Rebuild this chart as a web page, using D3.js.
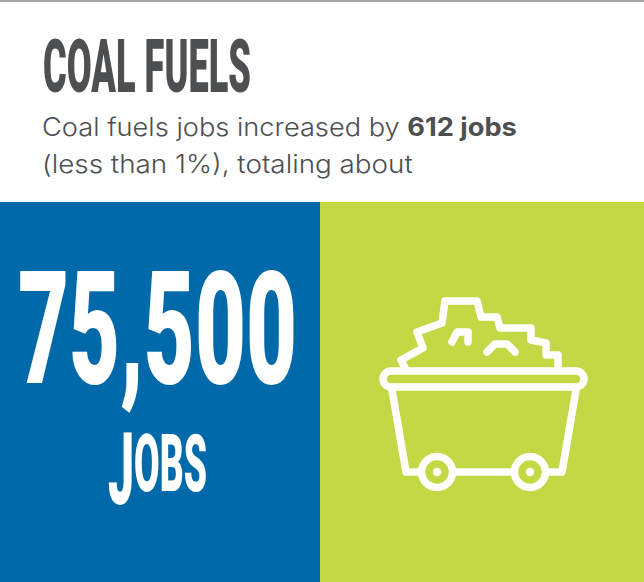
<!DOCTYPE html>
<html>
<head>
<meta charset="utf-8">
<script src="https://cdn.jsdelivr.net/npm/d3@7"></script>
<style>
  html, body { margin: 0; padding: 0; background: #fff; }
  svg { display: block; }
  .heavy { font-family: Roboto, "Liberation Sans", sans-serif; font-weight: 900; }
  .body { font-family: Inter, "Open Sans", sans-serif; font-weight: 300; }
</style>
</head>
<body>
<div id="chart"></div>
<script>
var title = "COAL FUELS",
    bodyLine1 = ["Coal fuels jobs increased by ", "612 jobs"],
    bodyLine2 = "(less than 1%), totaling about",
    totalJobs = 75500,
    unitLabel = ["J", "OBS"];

// outlines of the mine cart, in the icon's own 240x220 box
var pilePoints = [[45, 88], [41, 80], [63, 68], [57, 52], [82, 43], [85, 21], [117, 21], [121, 37], [137, 37], [140, 48], [171, 48], [171, 60], [186, 63], [186, 75], [198, 75], [198, 88]],
    markA = [[92, 62], [97, 52], [108, 52], [108, 62]],
    markB = [[127, 72], [135, 64], [147, 64], [155, 72]],
    cartPoints = [[32, 110], [46, 192], [61, 192]],
    cartFloor = [[93, 192], [154, 192]],
    cartRight = [[186, 192], [202, 192], [216, 110]],
    wheelCentres = [[77, 192], [170, 192]];

var width = 644, height = 582,
    panelEdges = [0, 320, 644],
    panelTop = 202;

var svg = d3.select("#chart").append("svg")
    .attr("width", width)
    .attr("height", height);

svg.append("rect").attr("width", width).attr("height", 2).attr("fill", "#a3a3a3");

svg.append("rect").attr("x", panelEdges[0]).attr("y", panelTop)
    .attr("width", panelEdges[1] - panelEdges[0]).attr("height", height - panelTop)
    .attr("fill", "#0069aa");
svg.append("rect").attr("x", panelEdges[1]).attr("y", panelTop)
    .attr("width", panelEdges[2] - panelEdges[1]).attr("height", height - panelTop)
    .attr("fill", "#c2d945");

// squeeze a text horizontally so it spans x0..x1
function fit(sel, x0, x1, baseline) {
    var box = sel.node().getBBox();
    var k = (x1 - x0) / box.width;
    sel.attr("transform", "translate(" + (x0 - box.x * k) + "," + baseline + ") scale(" + k + ",1)");
    return sel;
}

function heavyText(size, color) {
    return svg.append("text")
        .attr("class", "heavy")
        .attr("font-size", size)
        .attr("fill", color);
}

fit(heavyText(75, "#4d4f51").text(title), 43, 251, 92);
fit(heavyText(158, "#fff").text(d3.format(",")(totalJobs)), 18, 297, 383);

// the J of JOBS hangs below the line in the original lettering
var unit = heavyText(80, "#fff");
unit.append("tspan").attr("font-size", 100).attr("dy", 13).text(unitLabel[0]);
unit.append("tspan").attr("dy", -13).text(unitLabel[1]);
fit(unit, 108, 207, 491);

var line1 = svg.append("text").attr("class", "body")
    .attr("font-size", 25).attr("fill", "#4d4f51");
line1.append("tspan").text(bodyLine1[0]);
line1.append("tspan").attr("font-weight", 700).text(bodyLine1[1]);
fit(line1, 42, 517, 136);

var line2 = svg.append("text").attr("class", "body")
    .attr("font-size", 25).attr("fill", "#4d4f51")
    .text(bodyLine2);
fit(line2, 42, 413, 173);

// mine cart icon
var icon = svg.append("g")
    .attr("transform", "translate(360,280)")
    .attr("fill", "none")
    .attr("stroke", "#fff")
    .attr("stroke-width", 7.5)
    .attr("stroke-linejoin", "round")
    .attr("stroke-linecap", "round");

var outline = d3.line();
[pilePoints, markA, markB, cartPoints, cartFloor, cartRight].forEach(function(pts) {
    icon.append("path").attr("d", outline(pts));
});

icon.append("rect")
    .attr("x", 23).attr("y", 91)
    .attr("width", 201).attr("height", 16)
    .attr("rx", 8);

icon.selectAll("circle.wheel").data(wheelCentres).join("circle")
    .attr("class", "wheel")
    .attr("cx", function(d) { return d[0]; })
    .attr("cy", function(d) { return d[1]; })
    .attr("r", 15.5);

icon.selectAll("circle.hub").data(wheelCentres).join("circle")
    .attr("class", "hub")
    .attr("cx", function(d) { return d[0]; })
    .attr("cy", function(d) { return d[1]; })
    .attr("r", 4.2)
    .attr("fill", "#fff")
    .attr("stroke", "none");
</script>
</body>
</html>
